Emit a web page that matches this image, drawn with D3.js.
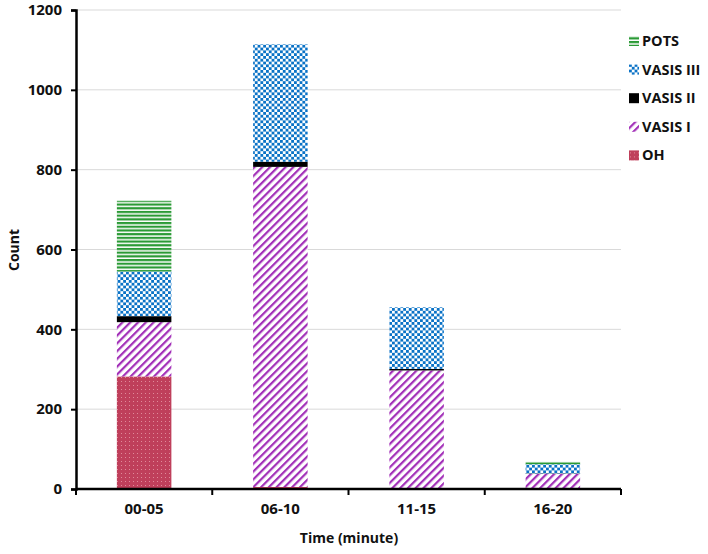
<!DOCTYPE html>
<html lang="en">
<head>
<meta charset="UTF-8">
<script src="https://d3js.org/d3.v7.min.js"></script>
<style>
body { margin: 0; background: #fff; }
text { font-family: "Open Sans", "Noto Sans", sans-serif; font-weight: 700; fill: #111; }
</style>
</head>
<body>
<div id="chart"></div>
<script>
// data
const categories = ["00-05", "06-10", "11-15", "16-20"];
const seriesNames = ["OH", "VASIS I", "VASIS II", "VASIS III", "POTS"];
const OH        = [282, 5, 2, 0];
const VASIS_I   = [136, 802, 295, 38];
const VASIS_II  = [15, 13, 4, 1];
const VASIS_III = [112, 294, 154, 23];
const POTS      = [177, 0, 0, 6];
const yTicks = [0, 200, 400, 600, 800, 1000, 1200];

const width = 708, height = 554;
const margin = { left: 76, right: 87, top: 10, bottom: 65 };

const svg = d3.select("#chart").append("svg")
  .attr("width", width).attr("height", height);

// fill patterns
const defs = svg.append("defs");

let p = defs.append("pattern").attr("id", "pOH").attr("patternUnits", "userSpaceOnUse")
  .attr("width", 4).attr("height", 4);
p.append("rect").attr("width", 4).attr("height", 4).attr("fill", "#bf3f5b");
p.append("rect").attr("x", 1).attr("y", 1).attr("width", 1).attr("height", 1).attr("fill", "#e08a9a");

p = defs.append("pattern").attr("id", "pV1").attr("patternUnits", "userSpaceOnUse")
  .attr("width", 5.5).attr("height", 5.5).attr("patternTransform", "rotate(45)");
p.append("rect").attr("width", 5.5).attr("height", 5.5).attr("fill", "#fff");
p.append("rect").attr("width", 2.2).attr("height", 5.5).attr("fill", "#a22fb8");

p = defs.append("pattern").attr("id", "pV3").attr("patternUnits", "userSpaceOnUse")
  .attr("width", 5.6).attr("height", 5.6);
p.append("rect").attr("width", 5.6).attr("height", 5.6).attr("fill", "#fff");
p.append("rect").attr("width", 2.8).attr("height", 2.8).attr("fill", "#0a72c6");
p.append("rect").attr("x", 2.8).attr("y", 2.8).attr("width", 2.8).attr("height", 2.8).attr("fill", "#0a72c6");

p = defs.append("pattern").attr("id", "pPOTS").attr("patternUnits", "userSpaceOnUse")
  .attr("width", 4).attr("height", 3.7);
p.append("rect").attr("width", 4).attr("height", 3.7).attr("fill", "#fff");
p.append("rect").attr("width", 4).attr("height", 2.2).attr("fill", "#2a9a35");

const fills = {
  "OH": "url(#pOH)", "VASIS I": "url(#pV1)", "VASIS II": "#000",
  "VASIS III": "url(#pV3)", "POTS": "url(#pPOTS)"
};

const table = categories.map((c, i) => ({
  cat: c, "OH": OH[i], "VASIS I": VASIS_I[i], "VASIS II": VASIS_II[i],
  "VASIS III": VASIS_III[i], "POTS": POTS[i]
}));
const stacked = d3.stack().keys(seriesNames)(table);

const x = d3.scaleBand().domain(categories)
  .range([margin.left, width - margin.right])
  .paddingInner(0.6).paddingOuter(0.3);
const y = d3.scaleLinear().domain([0, 1200])
  .range([height - margin.bottom, margin.top]);

// gridlines
svg.append("g").selectAll("line").data(yTicks.slice(1)).join("line")
  .attr("x1", margin.left).attr("x2", width - margin.right)
  .attr("y1", d => y(d)).attr("y2", d => y(d))
  .attr("stroke", "#d9d9d9").attr("stroke-width", 1);

// bars
svg.append("g").selectAll("g").data(stacked).join("g")
  .attr("fill", d => fills[d.key])
  .selectAll("rect").data(d => d).join("rect")
  .attr("x", d => x(d.data.cat))
  .attr("width", x.bandwidth())
  .attr("y", d => y(d[1]))
  .attr("height", d => y(d[0]) - y(d[1]));

// y axis
const yAxis = svg.append("g").attr("transform", `translate(${margin.left},0)`)
  .call(d3.axisLeft(y).tickValues(yTicks).tickFormat(d3.format("d")).tickSize(5).tickPadding(9));
yAxis.select(".domain").attr("stroke-width", 2.5);
yAxis.selectAll(".tick line").attr("stroke-width", 2);
yAxis.selectAll("text").style("font-size", "15px");

// x axis with ticks at category boundaries
const xa = svg.append("g").attr("transform", `translate(0,${y(0)})`);
xa.append("line").attr("x1", margin.left).attr("x2", width - margin.right)
  .attr("stroke", "#000").attr("stroke-width", 2.5);
const bounds = d3.range(categories.length + 1).map(i => margin.left + i * x.step());
xa.selectAll(".bt").data(bounds).join("line")
  .attr("x1", d => d).attr("x2", d => d).attr("y1", 0).attr("y2", 6)
  .attr("stroke", "#000").attr("stroke-width", 2);
xa.selectAll(".lbl").data(categories).join("text")
  .attr("x", d => x(d) + x.bandwidth() / 2).attr("y", 25)
  .attr("text-anchor", "middle").style("font-size", "15px").text(d => d);

// axis titles
svg.append("text").attr("x", 349).attr("y", 543).attr("text-anchor", "middle")
  .style("font-size", "14px").text("Time (minute)");
svg.append("text").attr("transform", "translate(19,250) rotate(-90)")
  .attr("text-anchor", "middle").style("font-size", "14px").text("Count");

// legend
const legend = svg.append("g").attr("transform", "translate(629,41)");
const legItems = seriesNames.slice().reverse();
const li = legend.selectAll("g").data(legItems).join("g")
  .attr("transform", (d, i) => `translate(0,${i * 28.6})`);
li.append("rect").attr("x", 0).attr("y", -5).attr("width", 10).attr("height", 10)
  .attr("fill", d => fills[d]);
li.append("text").attr("x", 13).attr("y", 0).attr("dy", "0.35em")
  .style("font-size", "14.5px").text(d => d);
</script>
</body>
</html>
